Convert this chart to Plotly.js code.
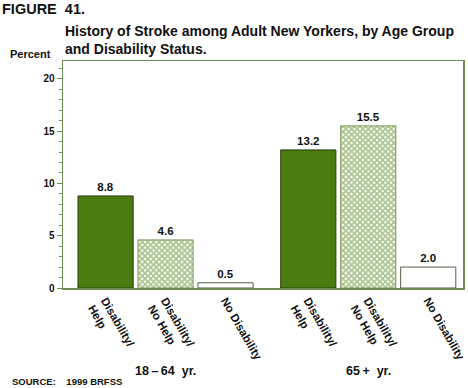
<!DOCTYPE html>
<html>
<head>
<meta charset="utf-8">
<script src="https://cdn.plot.ly/plotly-3.0.1.min.js"></script>
<style>html,body{margin:0;padding:0;background:#fff;}#chart{width:468px;height:388px;}</style>
</head>
<body>
<div id="chart"></div>
<script>
const categories = ["Disability/<br>Help", "Disability/<br>No Help", "No Disability", "Disability/<br>Help", "Disability/<br>No Help", "No Disability"];
const groups = ["18\u2009\u2013\u200964\u00a0 yr.", "65\u2009+\u00a0 yr."];
const values = [8.8, 4.6, 0.5, 13.2, 15.5, 2.0];
const labels = ["8.8", "4.6", "0.5", "13.2", "15.5", "2.0"];
const yTicks = [0, 5, 10, 15, 20];
const titleLines = ["History of Stroke among Adult New Yorkers, by Age Group", "and Disability Status."];

const GREEN = "#4a7c12";
const FRAME = "#6f8d52";
const FONT = "Liberation Sans, Arial, sans-serif";

const xpos = categories.map((c, i) => i + (i >= 3 ? 0.38 : 0));
const kindOf = i => i % 3; // 0 = help (solid), 1 = no help (hatched), 2 = no disability (white)

function subset(kind) {
  const idx = values.map((v, i) => i).filter(i => kindOf(i) === kind);
  return {x: idx.map(i => xpos[i]), y: idx.map(i => values[i]), text: idx.map(i => labels[i])};
}

const common = {
  type: "bar", width: 0.92, textposition: "outside", cliponaxis: false,
  textfont: {family: FONT, size: 11.5, color: "#111", weight: "bold"}, hoverinfo: "skip"
};

const s0 = subset(0), s1 = subset(1), s2 = subset(2);
const traces = [
  Object.assign({}, common, s0, {marker: {color: GREEN, line: {color: "#2a3d10", width: 1}}}),
  Object.assign({}, common, s1, {marker: {color: "#ffffff", line: {color: "#7d9a5f", width: 1},
    pattern: {shape: "x", fgcolor: "#5a8a22", bgcolor: "#ffffff", size: 4, solidity: 0.7, fillmode: "overlay"}}}),
  Object.assign({}, common, s2, {marker: {color: "#ffffff", line: {color: "#555f4a", width: 1}}})
];

const layout = {
  width: 468, height: 388,
  margin: {l: 63, r: 5, t: 61, b: 100},
  paper_bgcolor: "#fff", plot_bgcolor: "#fff",
  showlegend: false, barmode: "overlay",
  font: {family: FONT, color: "#111"},
  xaxis: {
    range: [-0.71, 5.96],
    tickvals: xpos,
    ticktext: categories,
    tickangle: 60,
    ticks: "",
    tickfont: {family: FONT, size: 11.5, weight: "bold", color: "#111"},
    showline: true, mirror: true, linecolor: FRAME, linewidth: 1.5,
    showgrid: false, zeroline: false, fixedrange: true
  },
  yaxis: {
    range: [0, 21.7],
    tickvals: yTicks,
    ticks: "outside", ticklen: 5, tickcolor: FRAME, tickwidth: 1,
    minor: {dtick: 1, ticks: "outside", ticklen: 3, tickcolor: FRAME, showgrid: false},
    tickfont: {family: FONT, size: 10, weight: "bold", color: "#111"},
    showline: true, mirror: true, linecolor: FRAME, linewidth: 1.5,
    showgrid: false, zeroline: false, fixedrange: true
  },
  annotations: [
    {text: "FIGURE\u00a0 41.", xref: "paper", yref: "paper", x: -63/400, y: 1 + 52/227, xanchor: "left", yanchor: "middle", showarrow: false,
     font: {family: FONT, size: 14.5, weight: "bold", color: "#111"}},
    {text: titleLines.join("<br>"), xref: "paper", yref: "paper", x: 0, y: 1 + 21/227, xanchor: "left", yanchor: "middle", align: "left", showarrow: false,
     font: {family: FONT, size: 14, weight: "bold", color: "#111"}},
    {text: "Percent", xref: "paper", yref: "paper", x: -10/400, y: 1 + 7/227, xanchor: "right", yanchor: "middle", showarrow: false,
     font: {family: FONT, size: 11, weight: "bold", color: "#111"}},
    {text: groups[0], xref: "x", yref: "paper", x: xpos[1], y: -83/227, xanchor: "center", yanchor: "middle", showarrow: false,
     font: {family: FONT, size: 12.5, weight: "bold", color: "#111"}},
    {text: groups[1], xref: "x", yref: "paper", x: xpos[4], y: -83/227, xanchor: "center", yanchor: "middle", showarrow: false,
     font: {family: FONT, size: 12.5, weight: "bold", color: "#111"}},
    {text: "SOURCE:\u00a0\u00a0\u00a0 1999 BRFSS", xref: "paper", yref: "paper", x: -53/400, y: -93/227, xanchor: "left", yanchor: "middle", showarrow: false,
     font: {family: FONT, size: 9.5, weight: "bold", color: "#111"}}
  ]
};

Plotly.newPlot("chart", traces, layout, {displayModeBar: false, staticPlot: true});
</script>
</body>
</html>
